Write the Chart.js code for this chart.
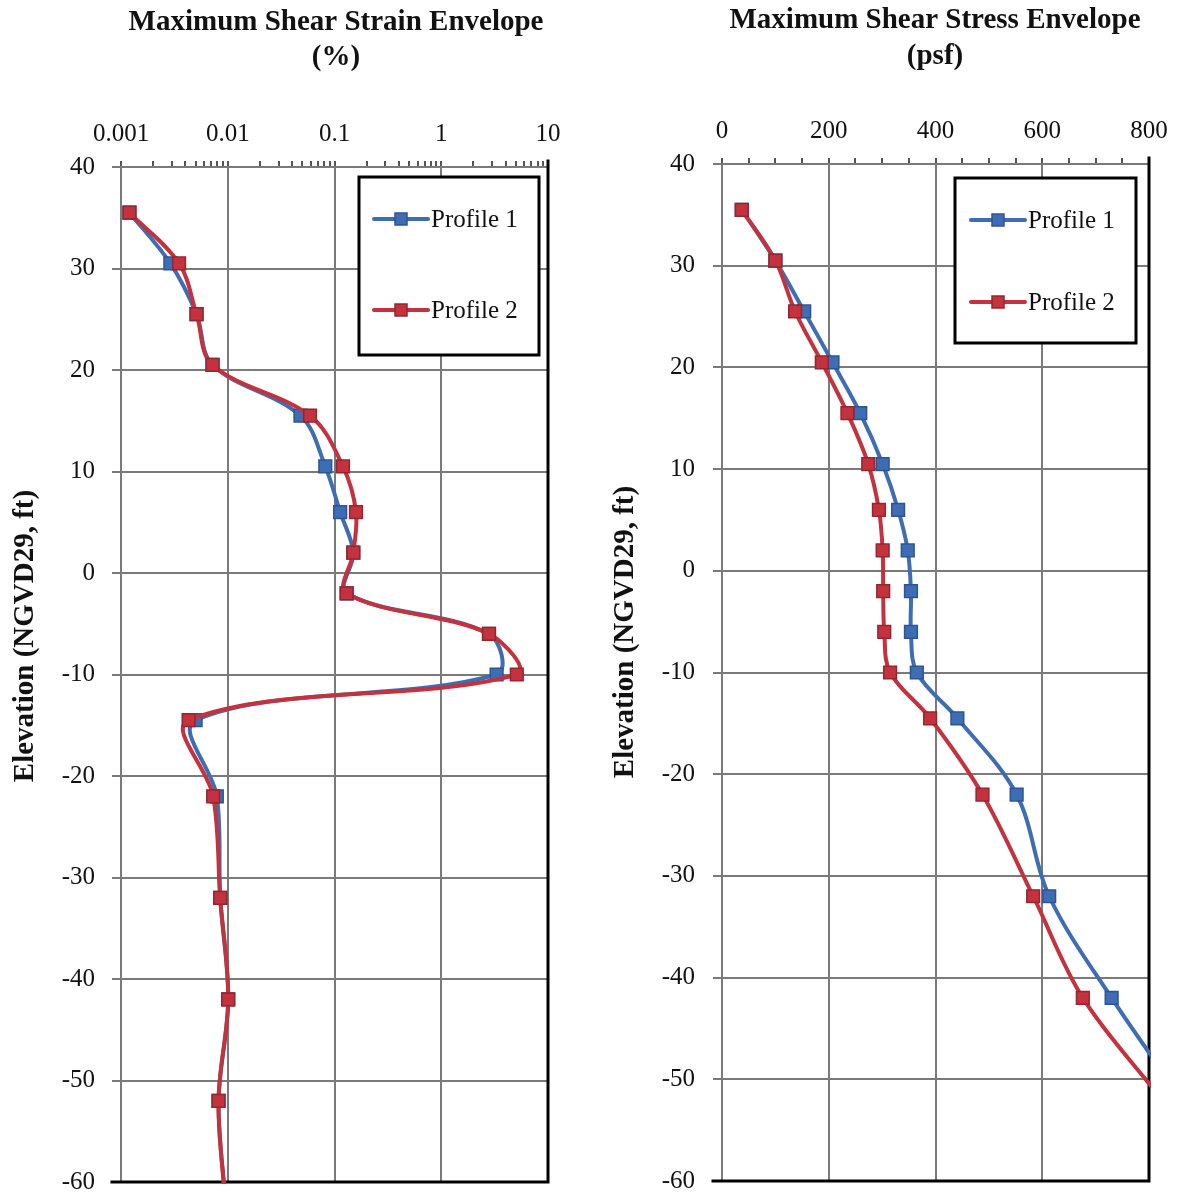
<!DOCTYPE html>
<html>
<head>
<meta charset="utf-8">
<title>Maximum Shear Strain and Stress Envelopes</title>
<script src="https://cdn.jsdelivr.net/npm/chart.js@4.4.1/dist/chart.umd.min.js"></script>
<style>
  html, body { margin: 0; padding: 0; background: #ffffff; }
  .panel { position: absolute; top: 0; height: 1194px; }
  #leftPanel { left: 0; width: 592px; }
  #rightPanel { left: 592px; width: 591px; }
</style>
</head>
<body>
<div id="leftPanel" class="panel"><canvas id="strainChart"></canvas></div>
<div id="rightPanel" class="panel"><canvas id="stressChart"></canvas></div>
<script>
// Elevation of each output depth (ft, NGVD29)
const elevationFt = [35.5, 30.5, 25.5, 20.5, 15.5, 10.5, 6, 2, -2, -6, -10, -14.5, -22, -32, -42, -52, -62];

// Maximum shear strain (%)
const strainProfile1 = [0.0012, 0.0029, 0.0051, 0.0072, 0.048, 0.082, 0.113, 0.150, 0.130, 2.8, 3.3, 0.0050, 0.0079, 0.0085, 0.0101, 0.0082, 0.0095];
const strainProfile2 = [0.0012, 0.0035, 0.0051, 0.0072, 0.059, 0.120, 0.159, 0.150, 0.130, 2.8, 5.1, 0.0043, 0.0073, 0.0085, 0.0101, 0.0082, 0.0095];

// Maximum shear stress (psf)
const stressProfile1 = [37, 100, 154, 207, 259, 301, 330, 348, 354, 354, 365, 441, 552, 613, 730, 862, 995];
const stressProfile2 = [37, 100, 137, 187, 235, 274, 294, 301, 302, 304, 315, 390, 488, 583, 676, 824, 970];

// Axis ticks
const strainDecades = [0.001, 0.01, 0.1, 1, 10];
const strainTickLabels = ['0.001', '0.01', '0.1', '1', '10'];
const stressMajorTicks = [0, 200, 400, 600, 800];
const elevationTicks = [40, 30, 20, 10, 0, -10, -20, -30, -40, -50, -60];

const seriesNames = ['Profile 1', 'Profile 2'];

const SERIF = "'Liberation Serif', 'Times New Roman', serif";
const BLUE = '#3F6DB3';
const BLUE_EDGE = '#2C5595';
const RED = '#C3323D';
const RED_EDGE = '#962530';
const GRID = '#7a7a7a';

function pairs(xs, ys) {
  return xs.map((x, i) => ({ x: x, y: ys[i] }));
}

function makeDatasets(p1, p2) {
  return [
    {
      label: seriesNames[0],
      data: pairs(p1, elevationFt),
      borderColor: BLUE, backgroundColor: BLUE, pointBorderColor: BLUE_EDGE,
      order: 1
    },
    {
      label: seriesNames[1],
      data: pairs(p2, elevationFt),
      borderColor: RED, backgroundColor: RED, pointBorderColor: RED_EDGE,
      order: 0
    }
  ].map(ds => Object.assign(ds, {
    showLine: true,
    borderWidth: 4,
    tension: 0.35,
    pointStyle: 'rect',
    pointRadius: 9,
    pointBorderWidth: 1.5,
    pointHoverRadius: 9,
    clip: 2
  }));
}

// Titles, framed legend and the heavy right/bottom frame of each panel
const panelDecor = {
  id: 'panelDecor',
  beforeDatasetsDraw(chart) {
    const { ctx, chartArea: a } = chart;
    ctx.save();
    ctx.strokeStyle = '#000';
    ctx.lineWidth = 3;
    ctx.lineCap = 'square';
    ctx.beginPath();
    ctx.moveTo(a.right, a.top - 6);
    ctx.lineTo(a.right, a.bottom);
    ctx.lineTo(a.left - 9, a.bottom);
    ctx.stroke();
    ctx.restore();
  },
  afterDraw(chart, args, opts) {
    const ctx = chart.ctx;
    ctx.save();
    ctx.fillStyle = '#111';
    ctx.textAlign = 'center';
    ctx.textBaseline = 'middle';
    ctx.font = 'bold ' + opts.titleSize + 'px ' + SERIF;
    opts.title.forEach((line, i) => ctx.fillText(line, opts.titleX, opts.titleY[i]));
    ctx.font = 'bold ' + opts.yTitleSize + 'px ' + SERIF;
    ctx.translate(opts.yTitleX, opts.yTitleY);
    ctx.rotate(-Math.PI / 2);
    ctx.fillText(opts.yTitle, 0, 0);
    ctx.restore();

    const L = opts.legend;
    ctx.save();
    ctx.fillStyle = '#ffffff';
    ctx.fillRect(L.x, L.y, L.w, L.h);
    ctx.strokeStyle = '#000';
    ctx.lineWidth = 3;
    ctx.strokeRect(L.x, L.y, L.w, L.h);
    chart.data.datasets.forEach((ds, i) => {
      const y = L.rowY[i];
      ctx.strokeStyle = ds.borderColor;
      ctx.lineWidth = ds.borderWidth;
      ctx.lineCap = 'round';
      ctx.beginPath();
      ctx.moveTo(L.lineX0, y);
      ctx.lineTo(L.lineX1, y);
      ctx.stroke();
      const s = 12;
      const mx = (L.lineX0 + L.lineX1) / 2;
      ctx.fillStyle = ds.backgroundColor;
      ctx.fillRect(mx - s / 2, y - s / 2, s, s);
      ctx.strokeStyle = ds.pointBorderColor;
      ctx.lineWidth = 1.5;
      ctx.strokeRect(mx - s / 2, y - s / 2, s, s);
      ctx.fillStyle = '#111';
      ctx.font = L.fontSize + 'px ' + SERIF;
      ctx.textAlign = 'left';
      ctx.textBaseline = 'middle';
      ctx.fillText(ds.label, L.lineX1 + 3, y + 1);
    });
    ctx.restore();
  }
};

function elevationAxis(width) {
  return {
    type: 'linear',
    position: 'left',
    min: -60,
    max: 40,
    afterBuildTicks(scale) {
      scale.ticks = elevationTicks.map(v => ({ value: v }));
    },
    afterFit(scale) {
      scale.width = width;
      scale.paddingTop = 0;
      scale.paddingBottom = 0;
    },
    grid: { color: GRID, lineWidth: 2, drawTicks: true, tickLength: 9, tickColor: GRID },
    border: { display: true, color: GRID, width: 2 },
    ticks: {
      padding: 17,
      color: '#111',
      font: { family: SERIF, size: 25 },
      callback: v => String(v)
    }
  };
}

function baseOptions() {
  return {
    responsive: true,
    maintainAspectRatio: false,
    animation: false,
    events: [],
    plugins: { legend: { display: false }, tooltip: { enabled: false }, title: { display: false } },
    elements: { line: { capBezierPoints: true } }
  };
}

// Left panel: strain on a logarithmic axis
const strainOpts = baseOptions();
strainOpts.layout = { padding: { left: 0, right: 44, top: 0, bottom: 12 } };
strainOpts.scales = {
  x: {
    type: 'logarithmic',
    position: 'top',
    min: strainDecades[0],
    max: strainDecades[strainDecades.length - 1],
    afterBuildTicks(scale) {
      const t = [];
      strainDecades.forEach((d, i) => {
        t.push({ value: d, major: true });
        if (i < strainDecades.length - 1) {
          for (let k = 2; k <= 9; k++) t.push({ value: +(d * k).toPrecision(3), major: false });
        }
      });
      scale.ticks = t;
    },
    afterFit(scale) {
      scale.height = 167;
      scale.paddingLeft = 0;
      scale.paddingRight = 0;
    },
    grid: {
      color: ctx => (ctx.tick && strainDecades.includes(ctx.tick.value) ? GRID : 'rgba(0,0,0,0)'),
      lineWidth: 2,
      drawTicks: true,
      tickLength: 6,
      tickColor: '#555'
    },
    border: { display: true, color: GRID, width: 2 },
    ticks: {
      autoSkip: false,
      maxRotation: 0,
      padding: 12,
      color: '#111',
      font: { family: SERIF, size: 25 },
      callback: (v) => {
        const i = strainDecades.indexOf(v);
        return i >= 0 ? strainTickLabels[i] : '';
      }
    }
  },
  y: elevationAxis(121)
};
strainOpts.plugins.panelDecor = {
  title: ['Maximum Shear Strain Envelope', '(%)'],
  titleSize: 29,
  titleX: 336,
  titleY: [23, 58],
  yTitle: 'Elevation (NGVD29, ft)',
  yTitleSize: 29,
  yTitleX: 26,
  yTitleY: 636,
  legend: { x: 359, y: 177, w: 180, h: 178, rowY: [219, 310], lineX0: 374, lineX1: 428, fontSize: 25 }
};

new Chart(document.getElementById('strainChart'), {
  type: 'scatter',
  data: { datasets: makeDatasets(strainProfile1, strainProfile2) },
  options: strainOpts,
  plugins: [panelDecor]
});

// Right panel: stress on a linear axis
const stressOpts = baseOptions();
stressOpts.layout = { padding: { left: 0, right: 34, top: 0, bottom: 13 } };
stressOpts.scales = {
  x: {
    type: 'linear',
    position: 'top',
    min: stressMajorTicks[0],
    max: stressMajorTicks[stressMajorTicks.length - 1],
    afterFit(scale) {
      scale.height = 164;
      scale.paddingLeft = 0;
      scale.paddingRight = 0;
    },
    grid: {
      color: ctx => (ctx.tick && stressMajorTicks.includes(ctx.tick.value) ? GRID : 'rgba(0,0,0,0)'),
      lineWidth: 2,
      drawTicks: true,
      tickLength: 6,
      tickColor: '#555'
    },
    border: { display: true, color: GRID, width: 2 },
    ticks: {
      stepSize: 50,
      autoSkip: false,
      maxRotation: 0,
      padding: 12,
      color: '#111',
      font: { family: SERIF, size: 25 },
      callback: v => (stressMajorTicks.includes(v) ? String(v) : '')
    }
  },
  y: elevationAxis(130)
};
stressOpts.scales.y.ticks.padding = 18;
stressOpts.plugins.panelDecor = {
  title: ['Maximum Shear Stress Envelope', '(psf)'],
  titleSize: 29,
  titleX: 343,
  titleY: [21, 57],
  yTitle: 'Elevation (NGVD29, ft)',
  yTitleSize: 29,
  yTitleX: 34,
  yTitleY: 632,
  legend: { x: 363, y: 178, w: 181, h: 165, rowY: [220, 302], lineX0: 379, lineX1: 433, fontSize: 25 }
};

new Chart(document.getElementById('stressChart'), {
  type: 'scatter',
  data: { datasets: makeDatasets(stressProfile1, stressProfile2) },
  options: stressOpts,
  plugins: [panelDecor]
});
</script>
</body>
</html>
